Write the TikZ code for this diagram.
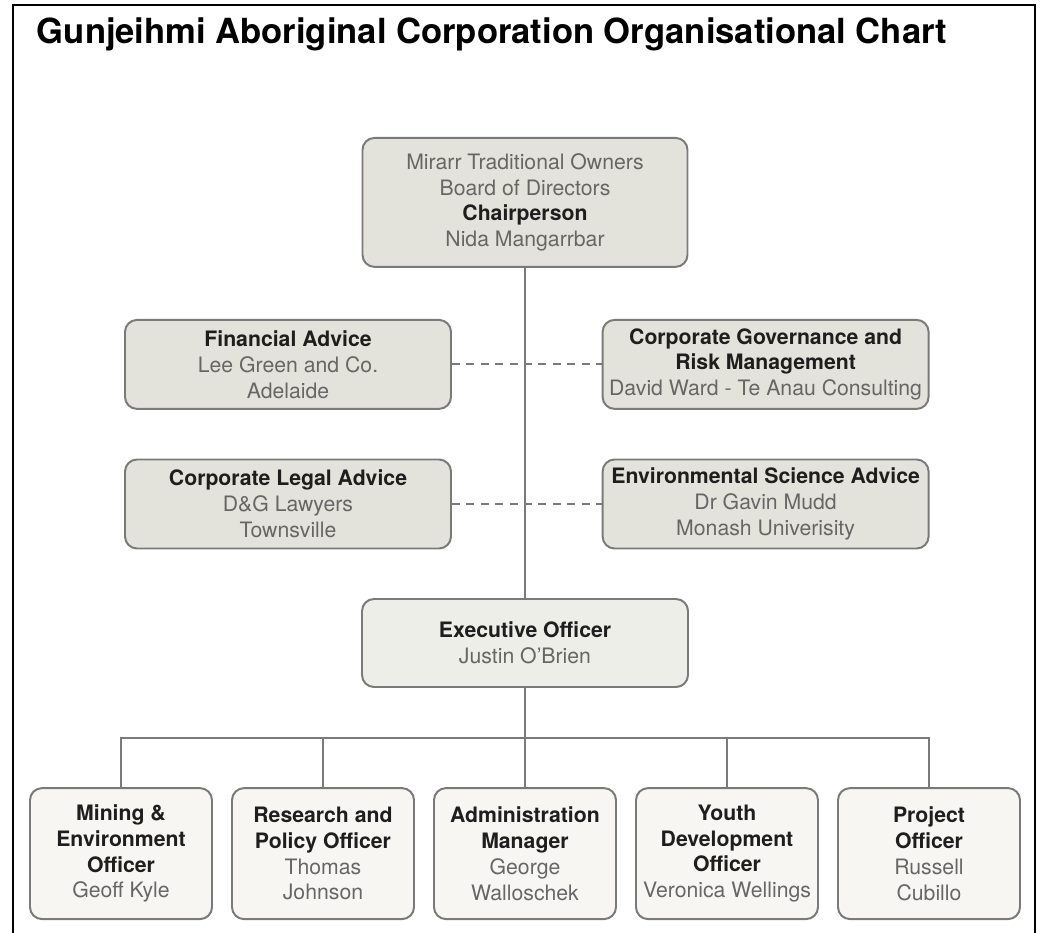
\documentclass[tikz,border=0pt]{standalone}
\usepackage{fontspec}
\setmainfont{TeX Gyre Heros}
\usetikzlibrary{positioning}
\definecolor{boxline}{HTML}{7A7A7A}
\definecolor{namegray}{HTML}{666666}
\definecolor{rolegray}{HTML}{1E1E1E}
\definecolor{boardfill}{HTML}{E4E3DB}
\definecolor{execfill}{HTML}{EEEEE9}
\definecolor{stafffill}{HTML}{F7F6F3}
\newcommand{\rolename}[1]{\textcolor{rolegray}{\textbf{#1}}}
\begin{document}
\begin{tikzpicture}[
    orgbox/.style={draw=boxline, line width=1.4pt, rounded corners=0.3cm, inner sep=0pt,
        align=center, text=namegray, font=\fontsize{15.1}{18.4}\selectfont},
    board/.style={orgbox, fill=boardfill, minimum width=8.125cm, minimum height=3.225cm},
    advice/.style={orgbox, fill=boardfill, minimum width=8.15cm, minimum height=2.225cm},
    exec/.style={orgbox, fill=execfill, minimum width=8.15cm, minimum height=2.2cm},
    staff/.style={orgbox, fill=stafffill, minimum width=4.55cm, minimum height=3.275cm},
    link/.style={draw=boxline, line width=1.4pt},
    advlink/.style={link, dash pattern=on 0.2cm off 0.16cm}]
    \useasboundingbox (0cm,0cm) rectangle (26.05cm,-23.325cm);
    \draw[line width=1.5pt] (0.325cm,-23.5cm) -- (0.325cm,-0.125cm) -- (25.875cm,-0.125cm) -- (25.875cm,-23.5cm);
    \node[anchor=base west, font=\bfseries\fontsize{24.6}{28}\selectfont] at (0.8cm,-1.1cm) (title) {Gunjeihmi Aboriginal Corporation Organisational Chart};
    % board and advisers
    \node[board] at (13.125cm,-5.06cm) (TO) {Mirarr Traditional Owners\\Board of Directors\\\rolename{Chairperson}\\Nida Mangarrbar};
    \node[advice] at (7.2cm,-9.11cm) (FA) {\rolename{Financial Advice}\\Lee Green and Co.\\Adelaide};
    \node[advice] at (19.14cm,-9.11cm) (CG) {\rolename{Corporate Governance and}\\\rolename{Risk Management}\\David Ward - Te Anau Consulting};
    \node[advice] at (7.2cm,-12.6cm) (LA) {\rolename{Corporate Legal Advice}\\D\&G Lawyers\\Townsville};
    \node[advice] at (19.14cm,-12.6cm) (ES) {\rolename{Environmental Science Advice}\\Dr Gavin Mudd\\Monash Univerisity};
    \node[exec] at (13.125cm,-16.075cm) (EO) {\rolename{Executive Officer}\\Justin O'Brien};
    % staff
    \node[staff] at (3.025cm,-21.34cm) (ME) {\rolename{Mining \&}\\\rolename{Environment}\\\rolename{Officer}\\Geoff Kyle};
    \node[staff] at (8.075cm,-21.34cm) (RP) {\rolename{Research and}\\\rolename{Policy Officer}\\Thomas\\Johnson};
    \node[staff] at (13.125cm,-21.34cm) (AM) {\rolename{Administration}\\\rolename{Manager}\\George\\Walloschek};
    \node[staff] at (18.175cm,-21.34cm) (YD) {\rolename{Youth}\\\rolename{Development}\\\rolename{Officer}\\Veronica Wellings};
    \node[staff] at (23.225cm,-21.34cm) (PO) {\rolename{Project}\\\rolename{Officer}\\Russell\\Cubillo};
    \coordinate (bus) at (13.125cm,-18.45cm);
    \draw[advlink] (FA) -- (CG);
    \draw[advlink] (LA) -- (ES);
    \draw[link] (TO) -- (EO);
    \draw[link] (EO) -- (bus);
    \draw[link] (bus) -| (ME);
    \draw[link] (bus) -| (RP);
    \draw[link] (bus) -- (AM);
    \draw[link] (bus) -| (YD);
    \draw[link] (bus) -| (PO);
\end{tikzpicture}
\end{document}
